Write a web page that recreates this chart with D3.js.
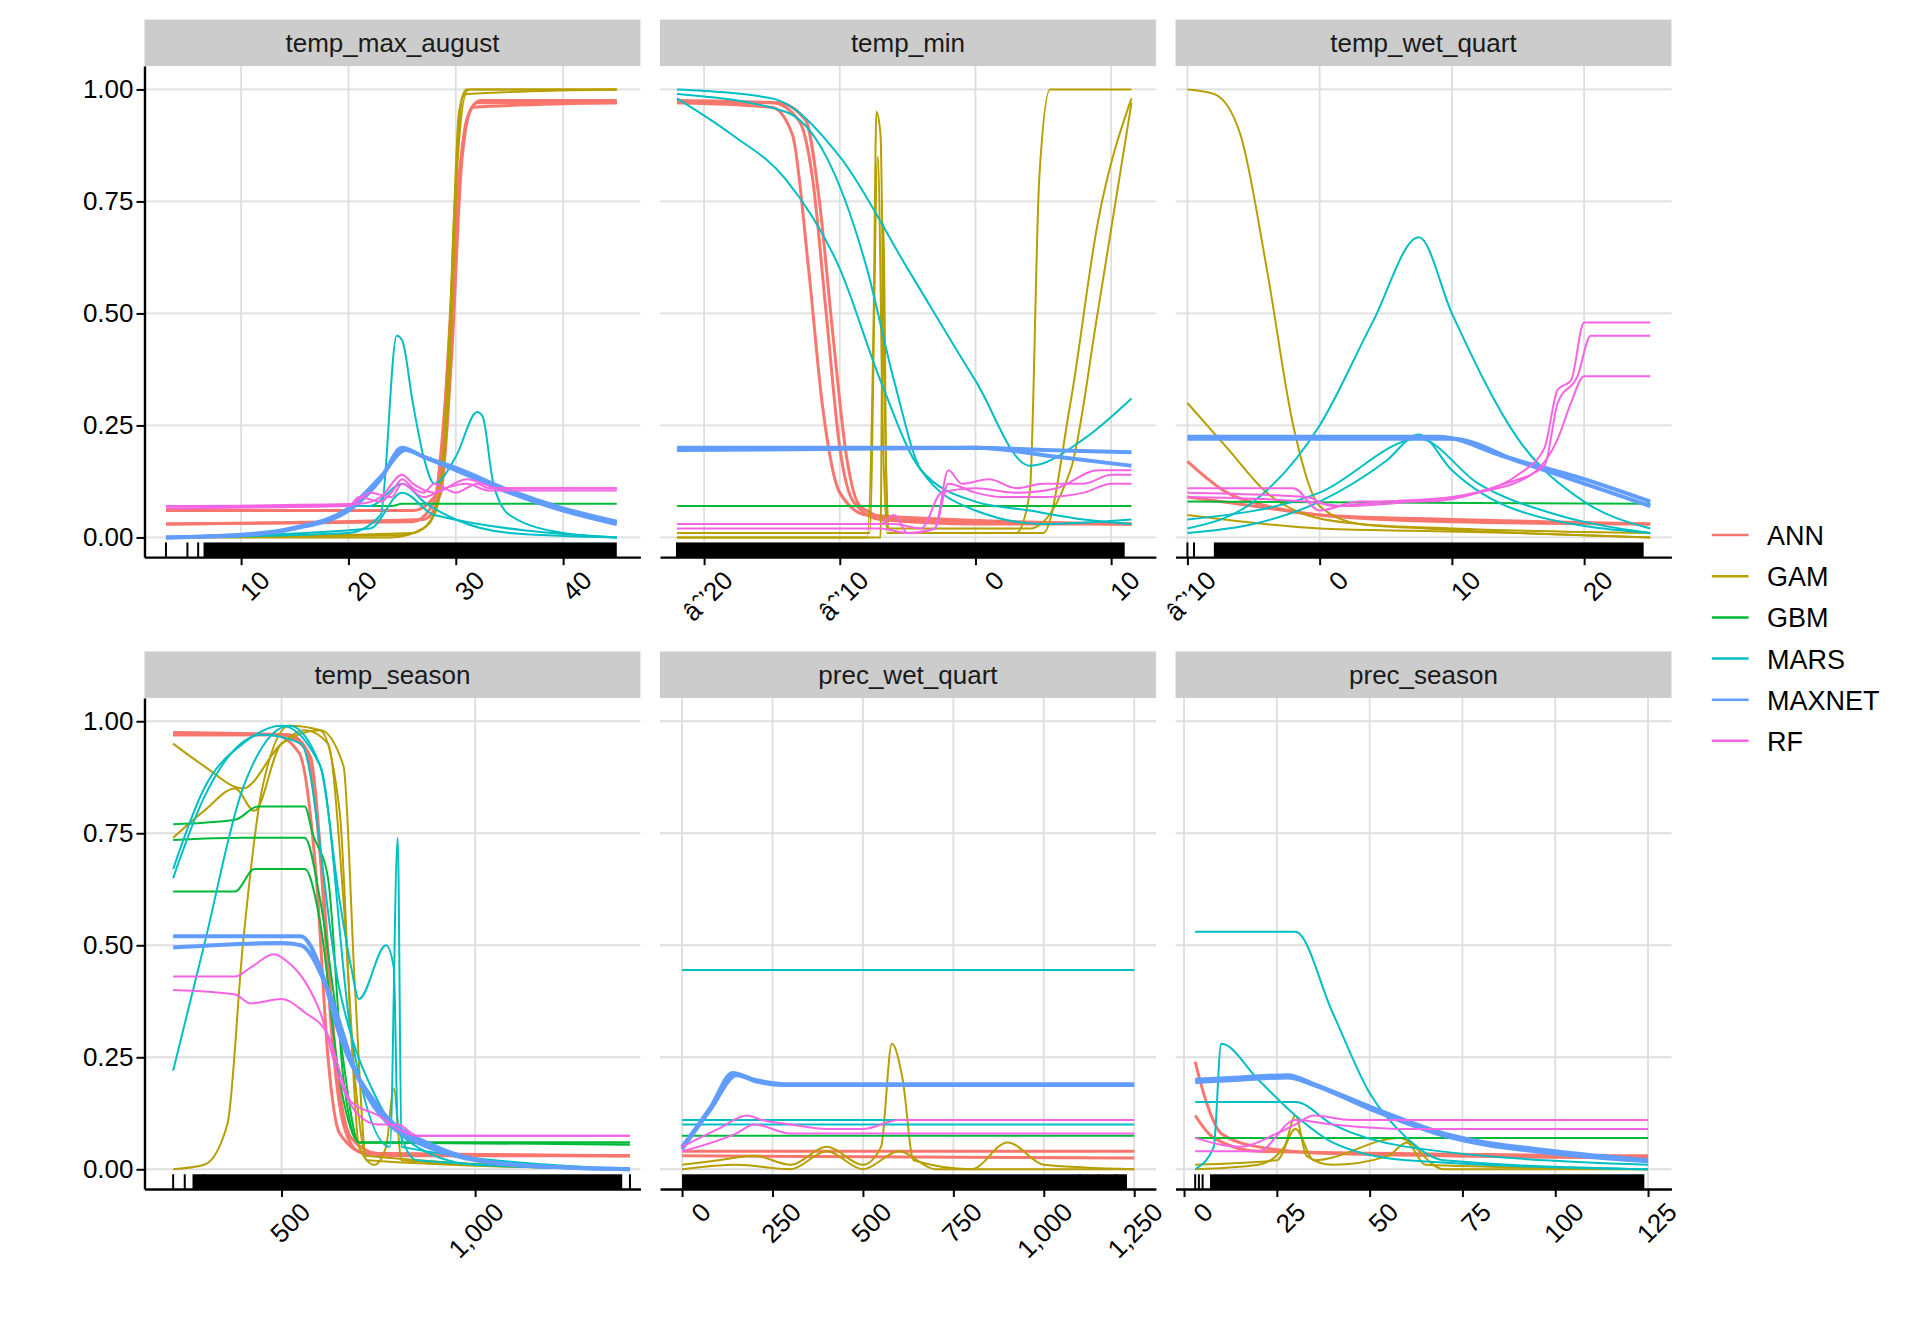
<!DOCTYPE html>
<html>
<script src="https://d3js.org/d3.v7.min.js"></script>
<style>body{margin:0;background:#fff;} text{font-family:"Liberation Sans",Arial,sans-serif;}</style>
<body>
<svg width="1920" height="1344"></svg>
<script>
// ---- data ----
const models = ["ANN", "GAM", "GBM", "MARS", "MAXNET", "RF"];
const modelColors = ["#F8766D", "#B79F00", "#00BA38", "#00BFC4", "#619CFF", "#F564E3"];
const panelNames = ["temp_max_august", "temp_min", "temp_wet_quart", "temp_season", "prec_wet_quart", "prec_season"];
const xDomains = [[1, 47.2], [-23.25, 13.3], [-10.9, 26.6], [146, 1427], [-61, 1310], [-2.3, 131.3]];
const xTicks = [[10, 20, 30, 40], [-20, -10, 0, 10], [-10, 0, 10, 20], [500, 1000], [0, 250, 500, 750, 1000, 1250], [0, 25, 50, 75, 100, 125]];
const yTicks = [0, 0.25, 0.5, 0.75, 1];
const rugDense = [[[6.5, 45]], [[-22, 11]], [[-8, 24.5]], [[270, 1380]], [[0, 1230]], [[7, 124]]];
const rugSparse = [[3, 5, 6], [-22], [-10, -9.5], [220, 250, 300, 1400], [1100, 1150, 1200], [3, 4, 5]];

const p1 = {
  ANN: [[[3,0.03],[26,0.035],[28,0.08],[29,0.3],[30,0.7],[31,0.93],[32,0.97],[45,0.97]],
        [[3,0.06],[26,0.06],[28.3,0.1],[29.3,0.4],[30.3,0.8],[31.3,0.95],[32.3,0.975],[45,0.975]],
        [[3,0.03],[27,0.04],[28.6,0.1],[29.6,0.4],[30.6,0.85],[31.6,0.96],[45,0.97]]],
  GAM: [[[3,0],[24,0],[27,0.02],[28.5,0.1],[29.5,0.5],[30.3,0.95],[31,1],[45,1]],
        [[3,0],[25,0.005],[27.5,0.03],[29,0.2],[29.8,0.7],[30.6,0.98],[31.3,1],[45,1]],
        [[3,0],[26,0.01],[28,0.05],[29.3,0.3],[30.2,0.85],[31,0.99],[45,1]]],
  GBM: [[[3,0.07],[24,0.07],[25,0.075],[45,0.075]]],
  MARS: [[[3,0],[20,0.01],[23,0.05],[24.5,0.45],[25,0.44],[26,0.3],[27,0.18],[28,0.12],[30,0.18],[32,0.28],[32.5,0.27],[33.5,0.12],[35,0.05],[40,0.01],[45,0]],
         [[3,0.07],[22,0.07],[25,0.12],[27,0.08],[30,0.04],[35,0.01],[45,0]],
         [[3,0],[22,0.02],[25,0.1],[28,0.05],[45,0]]],
  MAXNET: [[[3,0],[10,0.005],[15,0.02],[20,0.06],[23,0.13],[25,0.2],[27,0.18],[30,0.15],[35,0.1],[40,0.06],[45,0.03]],
           [[3,0],[10,0.006],[15,0.022],[20,0.065],[23,0.135],[25.3,0.195],[27,0.18],[30,0.155],[35,0.105],[40,0.065],[45,0.035]]],
  RF: [[[3,0.07],[20,0.07],[21,0.09],[23,0.08],[24,0.1],[25,0.13],[26,0.11],[27,0.1],[28,0.12],[30,0.1],[32,0.12],[33,0.11],[45,0.11]],
       [[3,0.065],[20,0.07],[22,0.1],[24,0.09],[25,0.12],[27,0.09],[29,0.11],[31,0.12],[33,0.105],[45,0.105]],
       [[3,0.07],[21,0.075],[23,0.09],[25,0.14],[26,0.12],[28,0.1],[31,0.13],[34,0.11],[45,0.11]]]
};
const p2 = {
  ANN: [[[-22,0.97],[-15,0.97],[-13,0.93],[-12,0.8],[-11,0.5],[-10,0.2],[-9,0.08],[-7,0.04],[0,0.03],[11.5,0.03]],
        [[-22,0.975],[-14.5,0.97],[-12.5,0.93],[-11.5,0.75],[-10.5,0.45],[-9.5,0.18],[-8.5,0.07],[-6,0.04],[11.5,0.03]],
        [[-22,0.97],[-15,0.96],[-13.5,0.9],[-12.3,0.6],[-11.3,0.3],[-10,0.1],[-8,0.05],[11.5,0.03]]],
  GAM: [[[-22,0],[-8,0],[-7.5,0.5],[-7.3,0.95],[-7,0.9],[-6.7,0.3],[-6.3,0.01],[3,0.01],[4,0.1],[4.7,0.8],[5.5,1],[11.5,1]],
        [[-22,0.01],[-7.8,0.01],[-7.2,0.85],[-6.8,0.2],[-6.5,0.01],[5,0.01],[7,0.3],[9,0.7],[11.5,0.98]],
        [[-22,0],[-7,0],[-6.8,0.7],[-6.5,0.02],[4,0.02],[7,0.15],[9,0.5],[11.5,0.97]]],
  GBM: [[[-22,0.07],[11.5,0.07]]],
  MARS: [[[-22,1],[-15,0.98],[-10,0.85],[-5,0.6],[0,0.35],[4,0.16],[8,0.22],[11.5,0.31]],
         [[-22,0.99],[-14,0.95],[-11,0.85],[-8,0.6],[-6,0.35],[-4,0.15],[0,0.06],[5,0.03],[11.5,0.04]],
         [[-22,0.98],[-18,0.9],[-14,0.8],[-10,0.6],[-7,0.35],[-4,0.15],[0,0.08],[4,0.06],[8,0.04],[11.5,0.03]]],
  MAXNET: [[[-22,0.2],[0,0.2],[5,0.195],[11.5,0.19]],
           [[-22,0.195],[0,0.2],[6,0.18],[11.5,0.16]]],
  RF: [[[-22,0.03],[-7,0.03],[-6,0.05],[-5,0.01],[-3,0.02],[-2,0.15],[-1,0.12],[1,0.13],[3,0.11],[5,0.12],[8,0.12],[10,0.14],[11.5,0.14]],
       [[-22,0.02],[-7,0.02],[-5,0.01],[-3,0.02],[-2,0.12],[0,0.1],[2,0.09],[5,0.09],[8,0.1],[10,0.12],[11.5,0.12]],
       [[-22,0.03],[-6,0.03],[-4,0.02],[-2.5,0.1],[0,0.11],[3,0.1],[6,0.11],[9,0.15],[11.5,0.15]]]
};
const p3 = {
  ANN: [[[-10,0.17],[-7,0.1],[-4,0.07],[0,0.05],[5,0.04],[10,0.035],[25,0.03]],
        [[-10,0.09],[-5,0.07],[0,0.05],[10,0.04],[25,0.03]]],
  GAM: [[[-10,1],[-8,0.99],[-6,0.9],[-4,0.6],[-2,0.25],[0,0.07],[3,0.03],[8,0.02],[15,0.01],[25,0]],
        [[-10,0.3],[-7,0.2],[-4,0.1],[-1,0.05],[3,0.03],[10,0.02],[25,0.01]],
        [[-10,0.05],[0,0.02],[7,0.015],[15,0.01],[25,0]]],
  GBM: [[[-10,0.08],[25,0.075]]],
  MARS: [[[-10,0.02],[-5,0.08],[0,0.25],[4,0.48],[7.5,0.67],[10,0.5],[15,0.22],[20,0.08],[25,0.02]],
         [[-10,0.01],[-5,0.03],[0,0.08],[5,0.17],[7.5,0.23],[10,0.15],[15,0.06],[25,0.01]],
         [[-10,0.04],[0,0.1],[7.5,0.22],[12,0.12],[18,0.05],[25,0.01]]],
  MAXNET: [[[-10,0.22],[10,0.22],[15,0.17],[20,0.12],[25,0.07]],
           [[-10,0.225],[9,0.225],[14,0.18],[20,0.13],[25,0.08]]],
  RF: [[[-10,0.11],[-2,0.11],[0,0.06],[3,0.08],[8,0.08],[12,0.1],[15,0.14],[17,0.2],[18,0.33],[19,0.35],[20,0.48],[25,0.48]],
       [[-10,0.1],[-1,0.09],[1,0.07],[5,0.08],[10,0.09],[14,0.12],[17,0.16],[18,0.3],[19.5,0.36],[20.5,0.45],[25,0.45]],
       [[-10,0.09],[-1,0.08],[2,0.07],[7,0.08],[12,0.1],[16,0.14],[18,0.22],[19,0.3],[20,0.36],[25,0.36]]]
};
const p4 = {
  ANN: [[[220,0.97],[500,0.97],[560,0.94],[600,0.7],[630,0.3],[660,0.1],[700,0.04],[800,0.03],[1400,0.03]],
        [[220,0.975],[520,0.97],[575,0.92],[610,0.6],[640,0.25],[680,0.07],[750,0.035],[1400,0.03]],
        [[220,0.97],[480,0.97],[545,0.93],[590,0.65],[620,0.25],[650,0.08],[720,0.035],[1400,0.03]]],
  GAM: [[[220,0],[300,0.01],[360,0.1],[400,0.5],[450,0.85],[520,0.99],[600,0.98],[650,0.8],[680,0.3],[700,0.05],[740,0.01],[770,0.05],[790,0.18],[810,0.02],[1400,0]],
        [[220,0.95],[300,0.9],[400,0.85],[500,0.95],[560,0.98],[620,0.95],[660,0.6],[690,0.2],[720,0.03],[1400,0]],
        [[220,0.74],[300,0.8],[380,0.85],[430,0.8],[500,0.95],[600,0.98],[660,0.9],[690,0.4],[720,0.02],[1400,0]]],
  GBM: [[[220,0.77],[380,0.78],[440,0.81],[560,0.81],[580,0.75],[620,0.65],[660,0.2],[700,0.06],[1400,0.06]],
        [[220,0.735],[400,0.74],[460,0.74],[560,0.74],[600,0.6],[650,0.3],[700,0.06],[1400,0.055]],
        [[220,0.62],[380,0.62],[430,0.67],[560,0.67],[600,0.55],[650,0.2],[700,0.06],[1400,0.06]]],
  MARS: [[[220,0.22],[300,0.5],[400,0.85],[520,0.99],[600,0.9],[650,0.6],[680,0.45],[700,0.38],[770,0.5],[790,0.45],[800,0.1],[850,0.02],[1400,0]],
         [[220,0.67],[300,0.85],[400,0.95],[500,0.99],[600,0.9],[680,0.3],[780,0.05],[800,0.74],[810,0.05],[1400,0]],
         [[220,0.65],[300,0.83],[450,0.97],[550,0.95],[650,0.4],[750,0.15],[850,0.05],[1000,0.01],[1400,0]]],
  MAXNET: [[[220,0.52],[550,0.52],[600,0.45],[650,0.3],[750,0.14],[900,0.05],[1100,0.01],[1400,0]],
           [[220,0.495],[500,0.505],[550,0.5],[620,0.4],[700,0.2],[850,0.06],[1100,0.01],[1400,0]]],
  RF: [[[220,0.43],[380,0.43],[420,0.45],[480,0.48],[520,0.46],[560,0.42],[600,0.35],[650,0.2],[700,0.12],[750,0.1],[800,0.1],[850,0.075],[1400,0.075]],
       [[220,0.4],[380,0.39],[420,0.37],[500,0.38],[560,0.35],[620,0.3],[680,0.15],[750,0.12],[800,0.09],[850,0.075],[1400,0.075]]]
};
const p5 = {
  ANN: [[[0,0.04],[1250,0.04]], [[0,0.03],[1250,0.025]]],
  GAM: [[[0,0.01],[100,0.02],[200,0.03],[300,0.01],[400,0.05],[500,0.01],[550,0.05],[580,0.28],[610,0.2],[640,0.02],[800,0],[900,0.06],[1000,0.01],[1250,0]],
        [[0,0],[150,0.01],[300,0],[400,0.04],[500,0],[600,0.04],[700,0],[1250,0]]],
  GBM: [[[0,0.075],[1250,0.075]]],
  MARS: [[[0,0.445],[1250,0.445]], [[0,0.11],[1250,0.11]], [[0,0.1],[1250,0.1]]],
  MAXNET: [[[0,0.05],[80,0.14],[140,0.215],[200,0.2],[280,0.19],[1250,0.19]],
           [[0,0.045],[80,0.135],[150,0.21],[210,0.195],[280,0.188],[1250,0.188]]],
  RF: [[[0,0.05],[100,0.09],[180,0.12],[220,0.11],[300,0.1],[400,0.09],[500,0.09],[600,0.11],[1250,0.11]],
       [[0,0.04],[150,0.08],[200,0.1],[300,0.08],[1250,0.08]]]
};
const p6 = {
  ANN: [[[3,0.24],[6,0.15],[10,0.08],[20,0.05],[40,0.035],[125,0.025]],
        [[3,0.12],[8,0.07],[20,0.04],[125,0.03]]],
  GAM: [[[3,0],[20,0.01],[27,0.05],[30,0.12],[33,0.03],[40,0.01],[55,0.03],[60,0.06],[65,0.01],[125,0]],
        [[3,0.01],[25,0.02],[30,0.09],[35,0.02],[58,0.07],[70,0],[125,0]]],
  GBM: [[[3,0.07],[125,0.07]]],
  MARS: [[[3,0.53],[30,0.53],[40,0.35],[50,0.17],[60,0.07],[70,0.02],[125,0]],
         [[3,0],[8,0.05],[10,0.28],[20,0.2],[30,0.12],[40,0.06],[60,0.02],[125,0]],
         [[3,0.15],[30,0.15],[40,0.1],[60,0.05],[125,0.01]]],
  MAXNET: [[[3,0.2],[15,0.205],[28,0.21],[35,0.19],[50,0.14],[70,0.08],[100,0.04],[125,0.02]],
           [[3,0.195],[15,0.2],[28,0.205],[35,0.188],[50,0.135],[70,0.075],[100,0.035],[125,0.018]]],
  RF: [[[3,0.07],[15,0.05],[25,0.08],[30,0.1],[35,0.12],[45,0.11],[55,0.11],[125,0.11]],
       [[3,0.04],[20,0.04],[30,0.11],[40,0.1],[60,0.09],[125,0.09]]]
};
const panelData = [p1, p2, p3, p4, p5, p6];

// ---- layout ----
const s = 1920 / 1568;
const colX = [118, 539, 960].map(v => v * s);
const panelW = 405 * s;
const rowTop = [16, 532].map(v => v * s);
const stripH = 38 * s;
const plotH = 401 * s;

const svg = d3.select("svg");
const y = d3.scaleLinear().domain([-0.044, 1.052]).range([plotH, 0]);

panelNames.forEach((name, i) => {
  const col = i % 3, row = Math.floor(i / 3);
  const g = svg.append("g").attr("transform", `translate(${colX[col]},${rowTop[row]})`);
  g.append("rect").attr("width", panelW).attr("height", stripH).attr("fill", "#cccccc");
  g.append("text").attr("x", panelW / 2).attr("y", stripH / 2 + 9).attr("text-anchor", "middle")
    .attr("font-size", 26).attr("fill", "#1a1a1a").text(name);

  const p = g.append("g").attr("transform", `translate(0,${stripH})`);
  const x = d3.scaleLinear().domain(xDomains[i]).range([0, panelW]);

  // grid
  p.selectAll(".gy").data(yTicks).join("line").attr("x1", 0).attr("x2", panelW)
    .attr("y1", d => y(d)).attr("y2", d => y(d)).attr("stroke", "#dedede").attr("stroke-width", 1.8);
  p.selectAll(".gx").data(xTicks[i]).join("line").attr("y1", 0).attr("y2", plotH)
    .attr("x1", d => x(d)).attr("x2", d => x(d)).attr("stroke", "#dedede").attr("stroke-width", 1.8);

  // lines
  const line = d3.line().x(d => x(d[0])).y(d => y(d[1])).curve(d3.curveMonotoneX);
  models.forEach((m, k) => {
    (panelData[i][m] || []).forEach(series => {
      p.append("path").attr("d", line(series)).attr("fill", "none")
        .attr("stroke", modelColors[k]).attr("stroke-width", m === "MAXNET" ? 4 : (m === "ANN" ? 3 : 2));
    });
  });

  // rug
  const rugTop = plotH - 12 * s;
  rugDense[i].forEach(r => p.append("rect").attr("x", x(r[0])).attr("y", rugTop)
    .attr("width", x(r[1]) - x(r[0])).attr("height", plotH - rugTop).attr("fill", "#000"));
  p.selectAll(".rug").data(rugSparse[i]).join("line").attr("x1", d => x(d)).attr("x2", d => x(d))
    .attr("y1", rugTop).attr("y2", plotH).attr("stroke", "#000").attr("stroke-width", 2);

  // x axis
  const xa = p.append("g").attr("transform", `translate(0,${plotH})`)
    .call(d3.axisBottom(x).tickValues(xTicks[i]).tickSize(8).tickSizeOuter(0));
  xa.select(".domain").attr("stroke-width", 2.4);
  xa.selectAll(".tick line").attr("stroke-width", 2);
  xa.selectAll("text").attr("font-size", 26).attr("fill", "#000")
    .attr("text-anchor", "end").attr("dx", "0.3em").attr("dy", "0.9em")
    .attr("transform", "translate(0,6) rotate(-45)");

  // y axis (left column)
  if (col === 0) {
    const ya = p.append("g").call(d3.axisLeft(y).tickValues(yTicks).tickFormat(d3.format(".2f")).tickSize(8).tickSizeOuter(0));
    ya.select(".domain").attr("stroke-width", 2.4);
    ya.selectAll(".tick line").attr("stroke-width", 2);
    ya.selectAll("text").attr("font-size", 26).attr("fill", "#000");
  }
});

// legend
const lg = svg.append("g").attr("transform", `translate(${1398 * s},${437 * s})`);
models.forEach((m, k) => {
  const gy = k * 33.6 * s;
  lg.append("line").attr("x1", 0).attr("x2", 30 * s).attr("y1", gy).attr("y2", gy)
    .attr("stroke", modelColors[k]).attr("stroke-width", 2.5);
  lg.append("text").attr("x", 45 * s).attr("y", gy + 10).attr("font-size", 27).text(m);
});
</script>
</body>
</html>
